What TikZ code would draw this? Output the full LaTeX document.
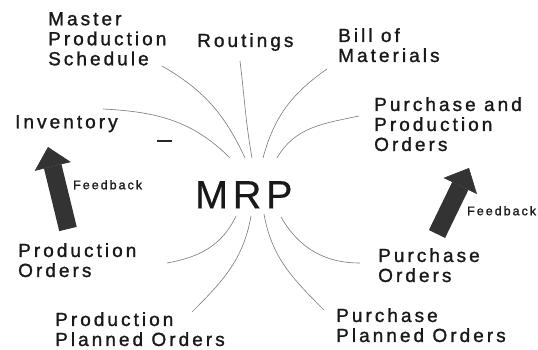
\documentclass[tikz,border=0pt]{standalone}
\usepackage{fontspec}
\setmainfont{Liberation Sans}[LetterSpace=16,FakeBold=1.3]
\newfontfamily\mrpfont{Liberation Sans}[LetterSpace=12,FakeBold=0.6]
\usetikzlibrary{arrows.meta}

\begin{document}
\begin{tikzpicture}
[x=1pt,y=1pt,%
  every node/.style={inner sep=0pt,anchor=north west,align=left,text=black!90,%
    font=\fontsize{19}{20}\selectfont},%
  small/.style={font=\fontsize{12.5}{14}\selectfont},%
  link/.style={draw=black!50,line width=0.65pt},%
  feedback/.style={draw=black!80,line width=18pt,%
    -{Triangle[width=37pt,length=20pt,line width=0.5pt]}}]
\useasboundingbox (0,0) rectangle (538,350);
\node[font=\mrpfont\fontsize{39.5}{40}\selectfont] (mrp) at (195,169) {MRP};
\node (mps) at (48,338) {Master\\Production\\Schedule};
\node (rout) at (197,317) {Routings};
\node (bom) at (338,322) {Bill of\\Materials};
\node (ppo) at (374,253) {Purchase and\\Production\\Orders};
\node (inv) at (15,235) {Inventory};
\node (prodord) at (18,107) {Production\\Orders};
\node (prodplan) at (55,38) {Production\\Planned Orders};
\node (purord) at (378,102) {Purchase\\Orders};
\node (purplan) at (336,42) {Purchase\\Planned Orders};
\node[small] (fbl) at (73,170) {Feedback};
\node[small] (fbr) at (467,144) {Feedback};
\draw[black!85,line width=1.2pt] (157,209) -- (172,209);
% feedback arrows
\coordinate (fbl-tail) at (68,121);
\coordinate (fbl-tip) at (48,203);
\coordinate (fbr-tail) at (437,116);
\coordinate (fbr-tip) at (469,182);
\draw[feedback] (fbl-tail) -- (fbl-tip);
\draw[feedback] (fbr-tail) -- (fbr-tip);
% lines into MRP
\coordinate (inv-a) at (103,241);  \coordinate (inv-b) at (230,192);
\coordinate (mps-a) at (162,284);  \coordinate (mps-b) at (245,192);
\coordinate (rout-a) at (240,289); \coordinate (rout-b) at (252,192);
\coordinate (bom-a) at (327,281);  \coordinate (bom-b) at (263,192);
\coordinate (ppo-a) at (359,234);  \coordinate (ppo-b) at (277,192);
\draw[link] (inv-a) to[out=-3,in=135] (inv-b);
\draw[link] (mps-a) to[out=-30,in=115] (mps-b);
\draw[link] (rout-a) to[out=-83,in=100] (rout-b);
\draw[link] (bom-a) to[out=-145,in=75] (bom-b);
\draw[link] (ppo-a) to[out=-168,in=60] (ppo-b);
% lines out of MRP
\coordinate (po-a) at (236,134);   \coordinate (po-b) at (167,87);
\coordinate (ppl-a) at (251,134);  \coordinate (ppl-b) at (192,38);
\coordinate (pupl-a) at (264,136); \coordinate (pupl-b) at (324,40);
\coordinate (puo-a) at (281,133);  \coordinate (puo-b) at (360,87);
\draw[link] (po-a) to[out=-115,in=10] (po-b);
\draw[link] (ppl-a) to[out=-100,in=45] (ppl-b);
\draw[link] (pupl-a) to[out=-80,in=135] (pupl-b);
\draw[link] (puo-a) to[out=-60,in=180] (puo-b);
\end{tikzpicture}
\end{document}
